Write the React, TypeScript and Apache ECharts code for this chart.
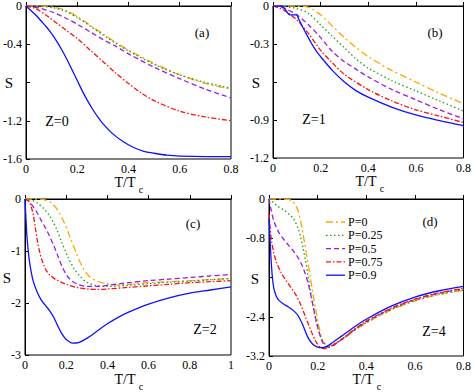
import React, { useEffect, useRef } from 'react';
import * as echarts from 'echarts';

// ---------- data ----------
const seriesNames = ['P=0', 'P=0.25', 'P=0.5', 'P=0.75', 'P=0.9'];

// x tick labels
const xTicksTop = [0, 0.2, 0.4, 0.6, 0.8];
const xTicksC = [0, 0.2, 0.4, 0.6, 0.8, 1];
const xTicksD = [0, 0.2, 0.4, 0.6, 0.8];
// y tick labels (middle one replaced by "S")
const yTicksA = [0, -0.4, -0.8, -1.2, -1.6];
const yTicksB = [0, -0.3, -0.6, -0.9, -1.2];
const yTicksC = [0, -1, -2, -3];
const yTicksD = [0, -0.8, -1.6, -2.4, -3.2];

// panel (a) Z=0
const aX_P0 = [0, 0.05, 0.1, 0.15, 0.2, 0.25, 0.3, 0.35, 0.4, 0.5, 0.6, 0.7, 0.8];
const aY_P0 = [0, 0, -0.01, -0.04, -0.11, -0.2, -0.29, -0.38, -0.46, -0.6, -0.72, -0.81, -0.87];
const aX_P025 = [0, 0.05, 0.1, 0.15, 0.2, 0.25, 0.3, 0.35, 0.4, 0.5, 0.6, 0.7, 0.8];
const aY_P025 = [0, -0.002, -0.015, -0.05, -0.12, -0.21, -0.3, -0.39, -0.47, -0.61, -0.72, -0.8, -0.86];
const aX_P05 = [0, 0.05, 0.1, 0.15, 0.2, 0.25, 0.3, 0.35, 0.4, 0.5, 0.6, 0.7, 0.8];
const aY_P05 = [0, -0.02, -0.06, -0.12, -0.19, -0.27, -0.35, -0.42, -0.5, -0.64, -0.76, -0.87, -0.96];
const aX_P075 = [0, 0.04, 0.08, 0.12, 0.16, 0.2, 0.25, 0.3, 0.35, 0.4, 0.45, 0.5, 0.6, 0.7, 0.8];
const aY_P075 = [0, -0.03, -0.1, -0.18, -0.26, -0.34, -0.46, -0.58, -0.7, -0.81, -0.91, -0.99, -1.1, -1.16, -1.2];
const aX_P09 = [0, 0.02, 0.04, 0.06, 0.08, 0.1, 0.12, 0.14, 0.16, 0.18, 0.2, 0.22, 0.24, 0.26, 0.28, 0.3, 0.34, 0.38, 0.42, 0.46, 0.5, 0.55, 0.6, 0.7, 0.8];
const aY_P09 = [0, -0.05, -0.1, -0.16, -0.22, -0.29, -0.37, -0.46, -0.56, -0.67, -0.78, -0.89, -0.99, -1.08, -1.16, -1.23, -1.34, -1.42, -1.48, -1.52, -1.54, -1.56, -1.57, -1.575, -1.575];

// panel (b) Z=1
const bX_P0 = [0, 0.1, 0.15, 0.2, 0.25, 0.3, 0.35, 0.4, 0.5, 0.6, 0.7, 0.8];
const bY_P0 = [0, -0.002, -0.01, -0.07, -0.16, -0.25, -0.33, -0.4, -0.51, -0.6, -0.69, -0.77];
const bX_P025 = [0, 0.05, 0.1, 0.15, 0.2, 0.25, 0.3, 0.35, 0.4, 0.5, 0.6, 0.7, 0.8];
const bY_P025 = [0, -0.005, -0.02, -0.06, -0.15, -0.24, -0.33, -0.42, -0.49, -0.59, -0.67, -0.75, -0.83];
const bX_P05 = [0, 0.05, 0.1, 0.15, 0.2, 0.25, 0.3, 0.35, 0.4, 0.5, 0.6, 0.7, 0.8];
const bY_P05 = [0, -0.02, -0.07, -0.15, -0.25, -0.36, -0.44, -0.5, -0.56, -0.66, -0.74, -0.82, -0.89];
const bX_P075 = [0, 0.03, 0.06, 0.1, 0.15, 0.2, 0.25, 0.3, 0.4, 0.5, 0.6, 0.7, 0.8];
const bY_P075 = [0, -0.02, -0.05, -0.11, -0.22, -0.35, -0.45, -0.54, -0.66, -0.75, -0.82, -0.87, -0.92];
const bX_P09 = [0, 0.04, 0.045, 0.06, 0.07, 0.1, 0.105, 0.12, 0.14, 0.16, 0.18, 0.2, 0.25, 0.3, 0.35, 0.4, 0.5, 0.6, 0.7, 0.8];
const bY_P09 = [0, 0, -0.01, -0.05, -0.07, -0.07, -0.09, -0.15, -0.22, -0.29, -0.35, -0.4, -0.51, -0.6, -0.67, -0.72, -0.8, -0.86, -0.905, -0.945];

// panel (c) Z=2
const cX_P0 = [0, 0.05, 0.1, 0.13, 0.16, 0.19, 0.22, 0.25, 0.28, 0.31, 0.35, 0.4, 0.45, 0.5, 0.6, 0.7, 0.8, 0.9, 1.0];
const cY_P0 = [0, 0, -0.02, -0.08, -0.22, -0.45, -0.75, -1.05, -1.32, -1.48, -1.58, -1.63, -1.65, -1.64, -1.61, -1.59, -1.57, -1.55, -1.53];
const cX_P025 = [0, 0.03, 0.06, 0.09, 0.12, 0.15, 0.18, 0.21, 0.24, 0.27, 0.3, 0.35, 0.4, 0.5, 0.6, 0.7, 0.8, 0.9, 1.0];
const cY_P025 = [0, -0.02, -0.08, -0.18, -0.33, -0.55, -0.85, -1.13, -1.35, -1.5, -1.6, -1.67, -1.68, -1.66, -1.63, -1.6, -1.58, -1.55, -1.53];
const cX_P05 = [0, 0.02, 0.04, 0.06, 0.08, 0.1, 0.12, 0.14, 0.16, 0.18, 0.2, 0.22, 0.25, 0.3, 0.35, 0.4, 0.5, 0.6, 0.7, 0.8, 0.9, 1.0];
const cY_P05 = [0, -0.05, -0.15, -0.27, -0.42, -0.56, -0.72, -0.9, -1.1, -1.3, -1.45, -1.55, -1.63, -1.68, -1.68, -1.66, -1.61, -1.57, -1.54, -1.51, -1.48, -1.45];
const cX_P075 = [0, 0.02, 0.03, 0.04, 0.05, 0.06, 0.07, 0.08, 0.1, 0.12, 0.15, 0.2, 0.25, 0.3, 0.35, 0.4, 0.5, 0.6, 0.7, 0.8, 0.9, 1.0];
const cY_P075 = [0, -0.05, -0.15, -0.3, -0.55, -0.8, -1.0, -1.15, -1.35, -1.46, -1.55, -1.64, -1.7, -1.73, -1.74, -1.73, -1.7, -1.67, -1.64, -1.61, -1.59, -1.57];
const cX_P09 = [0, 0.005, 0.01, 0.02, 0.03, 0.04, 0.06, 0.08, 0.1, 0.12, 0.14, 0.16, 0.18, 0.2, 0.23, 0.26, 0.3, 0.35, 0.4, 0.45, 0.5, 0.6, 0.7, 0.8, 0.9, 1.0];
const cY_P09 = [0, -0.4, -0.75, -1.15, -1.4, -1.58, -1.8, -1.95, -2.05, -2.15, -2.28, -2.45, -2.6, -2.7, -2.77, -2.76, -2.68, -2.54, -2.4, -2.28, -2.18, -2.02, -1.9, -1.81, -1.75, -1.69];

// panel (d) Z=4
const dX_P0 = [0, 0.05, 0.08, 0.1, 0.11, 0.12, 0.13, 0.14, 0.15, 0.16, 0.17, 0.18, 0.19, 0.2, 0.21, 0.22, 0.24, 0.26, 0.3, 0.35, 0.4, 0.5, 0.6, 0.7, 0.8];
const dY_P0 = [0, 0, -0.01, -0.06, -0.13, -0.25, -0.45, -0.72, -1.0, -1.3, -1.6, -1.9, -2.2, -2.47, -2.7, -2.88, -2.98, -2.97, -2.87, -2.69, -2.53, -2.27, -2.08, -1.95, -1.86];
const dX_P025 = [0, 0.02, 0.04, 0.06, 0.08, 0.1, 0.12, 0.13, 0.14, 0.15, 0.16, 0.17, 0.18, 0.19, 0.2, 0.22, 0.24, 0.26, 0.3, 0.35, 0.4, 0.5, 0.6, 0.7, 0.8];
const dY_P025 = [0, -0.08, -0.16, -0.22, -0.3, -0.4, -0.6, -0.78, -1.0, -1.25, -1.55, -1.85, -2.15, -2.42, -2.62, -2.88, -2.99, -2.98, -2.86, -2.68, -2.52, -2.26, -2.07, -1.94, -1.85];
const dX_P05 = [0, 0.01, 0.02, 0.04, 0.06, 0.08, 0.1, 0.12, 0.14, 0.16, 0.18, 0.2, 0.22, 0.24, 0.26, 0.3, 0.35, 0.4, 0.5, 0.6, 0.7, 0.8];
const dY_P05 = [0, -0.25, -0.45, -0.68, -0.82, -0.94, -1.06, -1.2, -1.4, -1.7, -2.15, -2.6, -2.92, -3.02, -3.0, -2.86, -2.67, -2.5, -2.24, -2.05, -1.92, -1.83];
const dX_P075 = [0, 0.005, 0.01, 0.02, 0.03, 0.05, 0.07, 0.09, 0.11, 0.13, 0.15, 0.17, 0.19, 0.21, 0.23, 0.25, 0.3, 0.35, 0.4, 0.5, 0.6, 0.7, 0.8];
const dY_P075 = [-0.3, -0.6, -0.85, -1.1, -1.28, -1.5, -1.66, -1.8, -1.95, -2.15, -2.4, -2.65, -2.88, -3.02, -3.05, -3.02, -2.85, -2.66, -2.49, -2.23, -2.04, -1.91, -1.82];
const dX_P09 = [0, 0.005, 0.01, 0.015, 0.02, 0.03, 0.04, 0.06, 0.08, 0.1, 0.12, 0.14, 0.16, 0.18, 0.2, 0.22, 0.24, 0.26, 0.3, 0.35, 0.4, 0.5, 0.6, 0.7, 0.8];
const dY_P09 = [-0.4, -0.9, -1.35, -1.65, -1.82, -1.98, -2.06, -2.14, -2.2, -2.27, -2.38, -2.58, -2.82, -2.96, -3.02, -3.03, -3.0, -2.93, -2.79, -2.61, -2.45, -2.19, -2.0, -1.87, -1.78];

// ---------- styles ----------
const FONT = '"Liberation Serif", "Times New Roman", serif';
const lineColors = ['#FFA500', '#1E9E1E', '#9A1CE6', '#FF1010', '#1010FF'];
const lineDashes: any[] = [[7, 3, 2, 3], [1.5, 2.5], [5, 3], [5, 2, 1.5, 2], null];

const panels = [
  { grid: { left: 26, top: 5, width: 205, height: 154 }, xTicks: xTicksTop, yTicks: yTicksA, hideY: -0.8,
    curves: [[aX_P0, aY_P0], [aX_P025, aY_P025], [aX_P05, aY_P05], [aX_P075, aY_P075], [aX_P09, aY_P09]] },
  { grid: { left: 273, top: 5, width: 192, height: 153 }, xTicks: xTicksTop, yTicks: yTicksB, hideY: -0.6,
    curves: [[bX_P0, bY_P0], [bX_P025, bY_P025], [bX_P05, bY_P05], [bX_P075, bY_P075], [bX_P09, bY_P09]] },
  { grid: { left: 25, top: 199, width: 206, height: 156 }, xTicks: xTicksC, yTicks: yTicksC, hideY: null,
    curves: [[cX_P0, cY_P0], [cX_P025, cY_P025], [cX_P05, cY_P05], [cX_P075, cY_P075], [cX_P09, cY_P09]] },
  { grid: { left: 269, top: 199, width: 195, height: 157 }, xTicks: xTicksD, yTicks: yTicksD, hideY: -1.6,
    curves: [[dX_P0, dY_P0], [dX_P025, dY_P025], [dX_P05, dY_P05], [dX_P075, dY_P075], [dX_P09, dY_P09]] },
];

const fmt = (v: number) => {
  const r = parseFloat(v.toFixed(3));
  return r === 0 ? '0' : String(r);
};

function buildOption() {
  const grids: any[] = [];
  const xAxes: any[] = [];
  const yAxes: any[] = [];
  const series: any[] = [];
  const graphics: any[] = [];
  const labelStyle = { color: '#000', fontFamily: FONT, fontSize: 12, fontWeight: 'normal' as const };

  panels.forEach((p, i) => {
    grids.push({ ...p.grid, show: true, borderColor: '#000', borderWidth: 1, backgroundColor: 'transparent' });
    const xs = p.xTicks;
    const ys = p.yTicks;
    xAxes.push({
      type: 'value', gridIndex: i, min: xs[0], max: xs[xs.length - 1], interval: xs[1] - xs[0],
      axisLine: { show: true, lineStyle: { color: '#000', width: 1 } },
      axisTick: { show: true, inside: true, length: 4, lineStyle: { color: '#000' } },
      splitLine: { show: false },
      axisLabel: { ...labelStyle, margin: 4, formatter: (v: number) => fmt(v) },
    });
    const yMin = ys[ys.length - 1];
    const yInt = ys[0] - ys[1];
    const hide = p.hideY;
    yAxes.push({
      type: 'value', gridIndex: i, min: yMin, max: ys[0], interval: yInt,
      axisLine: { show: true, lineStyle: { color: '#000', width: 1 } },
      axisTick: { show: true, inside: true, length: 4, lineStyle: { color: '#000' } },
      splitLine: { show: false },
      axisLabel: {
        ...labelStyle, margin: 4,
        formatter: (v: number) => (hide !== null && Math.abs(v - hide) < 1e-6 ? '' : fmt(v)),
      },
    });
    p.curves.forEach((c, k) => {
      const [cx, cy] = c as number[][];
      const ls: any = { color: lineColors[k], width: 1.3 };
      if (lineDashes[k]) ls.type = lineDashes[k];
      series.push({
        type: 'line', name: seriesNames[k], xAxisIndex: i, yAxisIndex: i,
        data: cx.map((x, j) => [x, cy[j]]),
        showSymbol: false, symbol: 'none', smooth: 0.3,
        lineStyle: ls,
        itemStyle: { color: lineColors[k] },
        clip: true,
      });
    });
  });

  const txt = (x: number, y: number, text: string, size: number, align = 'center') => ({
    type: 'text', x, y,
    style: { text, fill: '#000', font: `${size}px ${FONT}`, textAlign: align, textVerticalAlign: 'middle' },
  });

  // y-axis "S" labels
  graphics.push(txt(9, 83, 'S', 15));
  graphics.push(txt(256, 83, 'S', 15));
  graphics.push(txt(7, 278, 'S', 15));
  graphics.push(txt(255, 279, 'S', 15));
  // x-axis T/Tc labels
  const tt = (cx: number, y: number) => {
    graphics.push(txt(cx - 3, y, 'T/T', 14));
    graphics.push(txt(cx + 13, y + 7, 'c', 10, 'center'));
  };
  tt(128, 182);
  tt(369, 181);
  tt(128, 379);
  tt(366, 379);
  // panel ids
  graphics.push(txt(202, 32, '(a)', 13));
  graphics.push(txt(435, 32, '(b)', 13));
  graphics.push(txt(193, 223, '(c)', 13));
  graphics.push(txt(430, 221, '(d)', 13));
  // Z labels
  graphics.push(txt(57, 121, 'Z=0', 14));
  graphics.push(txt(314, 119, 'Z=1', 14));
  graphics.push(txt(205, 329, 'Z=2', 14));
  graphics.push(txt(434, 331, 'Z=4', 14));

  // legend (panel d)
  const legTop = 222;
  const legStep = 13.3;
  seriesNames.forEach((n, k) => {
    const y = legTop + k * legStep;
    const st: any = { stroke: lineColors[k], lineWidth: 1.3 };
    if (lineDashes[k]) st.lineDash = lineDashes[k];
    graphics.push({ type: 'line', shape: { x1: 326, y1: y, x2: 345, y2: y }, style: st });
    graphics.push(txt(348, y, n, 12, 'left'));
  });

  return {
    animation: false,
    backgroundColor: '#fff',
    textStyle: { fontFamily: FONT },
    grid: grids,
    xAxis: xAxes,
    yAxis: yAxes,
    series,
    graphic: graphics,
  };
}

export default function App() {
  const ref = useRef<HTMLDivElement>(null);
  useEffect(() => {
    if (!ref.current) return;
    const chart = echarts.init(ref.current, undefined, { renderer: 'svg' });
    chart.setOption(buildOption() as any);
    return () => chart.dispose();
  }, []);
  return <div ref={ref} style={{ position: 'absolute', left: 0, top: 0, width: 474, height: 392 }} />;
}
